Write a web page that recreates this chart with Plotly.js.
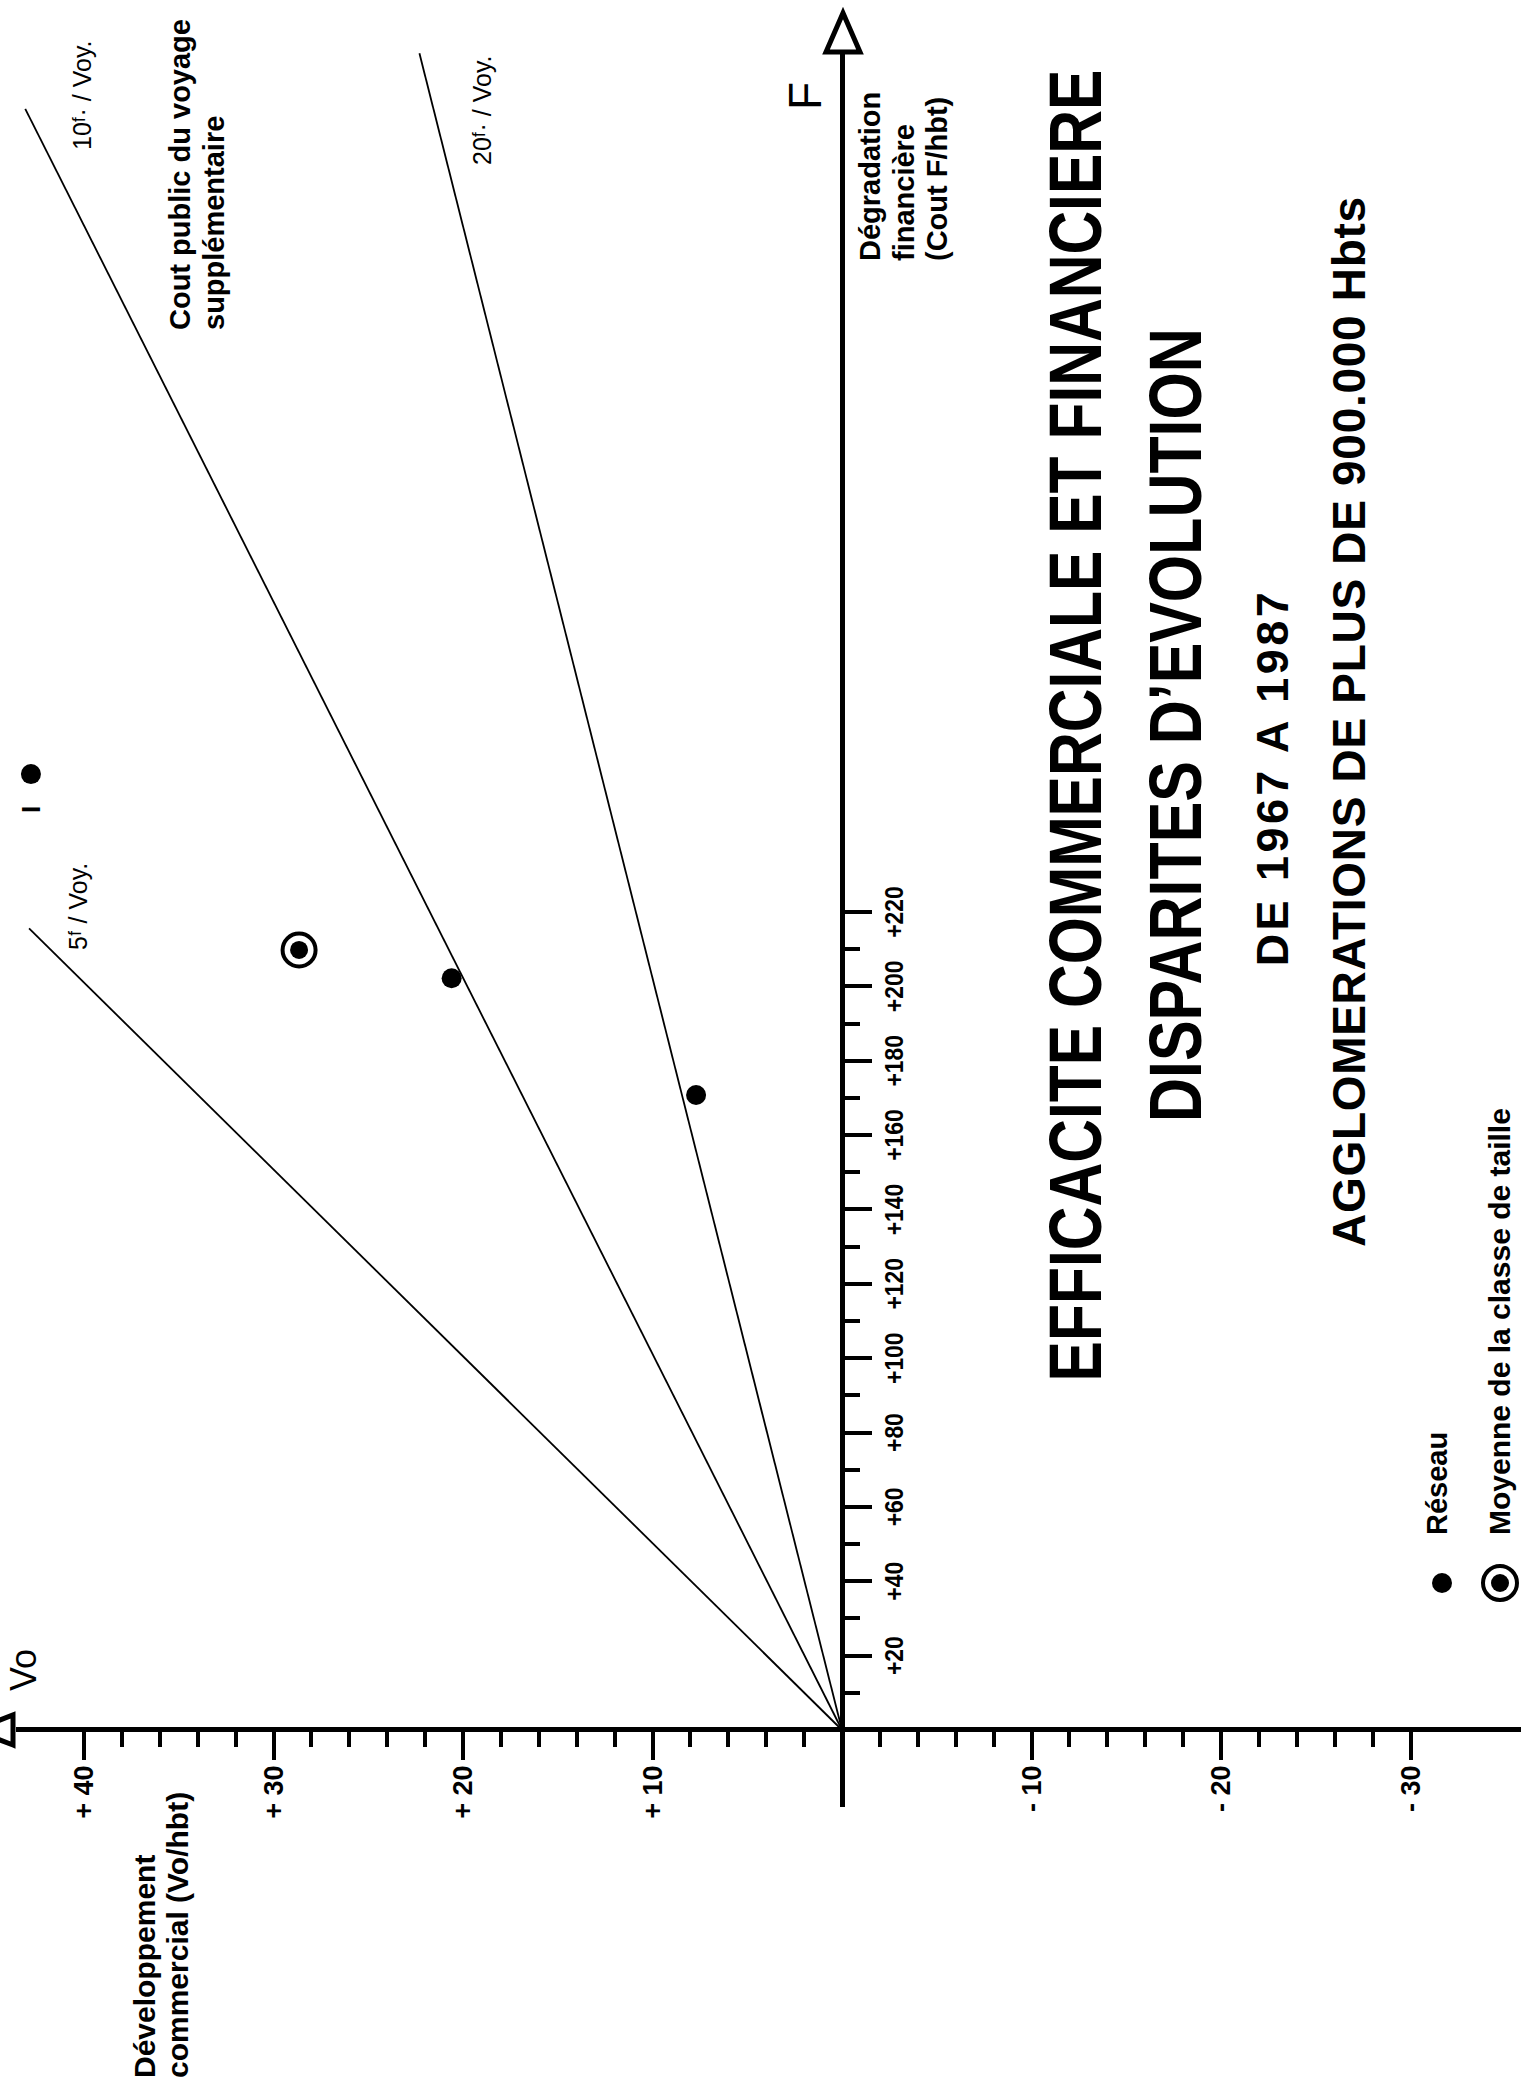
<!DOCTYPE html>
<html>
<head>
<meta charset="utf-8">
<script src="https://cdn.plot.ly/plotly-3.0.1.min.js"></script>
<style>
html,body{margin:0;padding:0;background:#fff;overflow:hidden;width:1521px;height:2084px;}
#wrap{position:absolute;left:0;top:0;width:2084px;height:1521px;transform-origin:0 0;}
</style>
</head>
<body>
<div id="wrap"></div>
<script>
// ---------- data ----------
// F axis : Dégradation financière (Cout F/hbt) ; Vo axis : Développement commercial (Vo/hbt)
const fTickVals   = [20, 40, 60, 80, 100, 120, 140, 160, 180, 200, 220];
const fTickText   = ['+20', '+40', '+60', '+80', '+100', '+120', '+140', '+160', '+180', '+200', '+220'];
const fMinorVals  = [10, 30, 50, 70, 90, 110, 130, 150, 170, 190, 210];
const voTickVals  = [40, 30, 20, 10, -10, -20, -30];
const voTickText  = ['+ 40', '+ 30', '+ 20', '+ 10', '- 10', '- 20', '- 30'];
const voMinorVals = [38, 36, 34, 32, 28, 26, 24, 22, 18, 16, 14, 12, 8, 6, 4, 2,
                     -2, -4, -6, -8, -12, -14, -16, -18, -22, -24, -26, -28];

// iso-cost lines "Cout public du voyage supplémentaire" (F per additional trip)
const isoLabels = ['5', '10', '20'];
const isoEndF   = [215.6, 436.0, 451.0];
const isoEndVo  = [42.9, 43.1, 22.3];

// networks (Réseau)
const reseauF  = [257.1, 202.2, 170.8];
const reseauVo = [42.8, 20.6, 7.7];
const reseauTag = ['I', '', ''];
// size-class average (Moyenne de la classe de taille)
const moyenneF  = [209.8];
const moyenneVo = [28.65];

// ---------- page geometry (unrotated canvas, then turned 90° counter-clockwise) ----------
const W = 2084, H = 1521;
const U0 = 354, V0 = 842;          // origin in pixels
const PXF = 3.718, PXV = 18.95;     // pixels per unit
const pu = u => u / W;
const pv = v => 1 - v / H;

const SANS = 'Liberation Sans, Arial, Helvetica, sans-serif';
const HAND = 'Liberation Sans, DejaVu Sans, sans-serif';

const traces = [];
isoLabels.forEach((lab, i) => {
  traces.push({
    type: 'scatter', mode: 'lines', name: lab + ' F/Voy',
    x: [0, isoEndF[i]], y: [0, isoEndVo[i]],
    line: {color: '#000', width: 1.8}, hoverinfo: 'skip', showlegend: false
  });
});
traces.push({
  type: 'scatter', mode: 'markers', name: 'Réseau',
  x: reseauF, y: reseauVo, cliponaxis: false,
  marker: {color: '#000', size: 20}, showlegend: false
});
traces.push({
  type: 'scatter', mode: 'markers', name: 'Moyenne (anneau)',
  x: moyenneF, y: moyenneVo, cliponaxis: false,
  marker: {symbol: 'circle-open', size: 33, color: '#000', line: {color: '#000', width: 4}}, showlegend: false
});
traces.push({
  type: 'scatter', mode: 'markers', name: 'Moyenne de la classe de taille',
  x: moyenneF, y: moyenneVo, cliponaxis: false,
  marker: {color: '#000', size: 18}, showlegend: false
});

function ann(text, u, v, size, o) {
  o = o || {};
  return Object.assign({
    text: text, xref: 'paper', yref: 'paper', x: pu(u), y: pv(v),
    xanchor: 'center', yanchor: 'middle', showarrow: false,
    font: {family: SANS, size: size, color: '#000', weight: 'bold'}
  }, o);
}
const thin = s => ({font: {family: HAND, size: s, color: '#000', weight: 'normal'}});

// text fitting: [annotation index, target length px, mode]
const fits = [];
const annotations = [];
function addAnn(a, fit) {
  if (fit) fits.push([annotations.length, fit[0], fit[1]]);
  annotations.push(a);
}

addAnn(ann('EFFICACITE COMMERCIALE ET FINANCIERE', 1358, 1075, 75), [1312, 'condense']);
addAnn(ann('DISPARITES D\u2019EVOLUTION', 1359, 1175, 75), [794, 'condense']);
addAnn(ann('DE 1967 A 1987', 1304, 1272, 45), [374, 'spacing']);
addAnn(ann('AGGLOMERATIONS DE PLUS DE 900.000 Hbts', 1362, 1349, 46), [1050, 'spacing']);

addAnn(ann('Dégradation', 1821, 870, 29, {xanchor: 'left'}));
addAnn(ann('financière', 1821, 904, 29, {xanchor: 'left'}));
addAnn(ann('(Cout F/hbt)', 1821, 937, 29, {xanchor: 'left'}));

addAnn(ann('Cout public du voyage', 1752, 180, 29, {xanchor: 'left'}));
addAnn(ann('supplémentaire', 1752, 214, 29, {xanchor: 'left'}));

addAnn(ann('Développement', 4, 145, 30, {xanchor: 'left'}));
addAnn(ann('commercial (Vo/hbt)', 4, 178, 30, {xanchor: 'left'}));

addAnn(ann('Réseau', 547, 1437, 29, {xanchor: 'left'}));
addAnn(ann('Moyenne de la classe de taille', 547, 1499, 30, {xanchor: 'left'}));

addAnn(ann('F', 1988, 805, 46, thin(46)));
addAnn(ann('Vo', 414, 24, 36, thin(36)));

addAnn(ann(isoLabels[0] + '\u1DA0 / Voy.', 1177, 78, 25, thin(25)));
addAnn(ann(isoLabels[1] + '\u1DA0\u00B7 / Voy.', 1989, 82, 25, thin(25)));
addAnn(ann(isoLabels[2] + '\u1DA0\u00B7 / Voy.', 1974, 482, 25, thin(25)));

// roman numeral tag next to the first network
addAnn({text: reseauTag[0], xref: 'x', yref: 'y', x: reseauF[0], y: reseauVo[0],
        xanchor: 'center', yanchor: 'middle', xshift: -35, showarrow: false,
        font: {family: SANS, size: 26, color: '#000', weight: 'bold'}});

const shapes = [
  // arrow head of the F axis (hollow triangle)
  {type: 'path', xref: 'paper', yref: 'paper',
   path: `M ${pu(2032)},${pv(826)} L ${pu(2071)},${pv(843)} L ${pu(2032)},${pv(860)} Z`,
   fillcolor: '#fff', line: {color: '#000', width: 5}},
  // arrow head of the Vo axis (mostly outside the sheet)
  {type: 'path', xref: 'paper', yref: 'paper',
   path: `M ${pu(339)},${pv(13)} L ${pu(354)},${pv(-26)} L ${pu(369)},${pv(13)} Z`,
   fillcolor: '#fff', line: {color: '#000', width: 5}},
  // legend symbols
  {type: 'circle', xref: 'paper', yref: 'paper', xsizemode: 'pixel', ysizemode: 'pixel',
   xanchor: pu(501), yanchor: pv(1442), x0: -10, x1: 10, y0: -10, y1: 10,
   fillcolor: '#000', line: {color: '#000', width: 0}},
  {type: 'circle', xref: 'paper', yref: 'paper', xsizemode: 'pixel', ysizemode: 'pixel',
   xanchor: pu(501), yanchor: pv(1500), x0: -17, x1: 17, y0: -17, y1: 17,
   fillcolor: 'rgba(0,0,0,0)', line: {color: '#000', width: 4}},
  {type: 'circle', xref: 'paper', yref: 'paper', xsizemode: 'pixel', ysizemode: 'pixel',
   xanchor: pu(501), yanchor: pv(1500), x0: -9, x1: 9, y0: -9, y1: 9,
   fillcolor: '#000', line: {color: '#000', width: 0}}
];

const layout = {
  width: W, height: H,
  margin: {l: 0, r: 0, t: 0, b: 0, pad: 0},
  paper_bgcolor: '#fff', plot_bgcolor: 'rgba(0,0,0,0)',
  showlegend: false,
  xaxis: {
    domain: [pu(277), pu(2032)],
    range: [(277 - U0) / PXF, (2032 - U0) / PXF],
    anchor: 'free', position: pv(V0),
    showline: true, linecolor: '#000', linewidth: 5,
    zeroline: false, showgrid: false,
    tickmode: 'array', tickvals: fTickVals, ticktext: fTickText, tickangle: 0,
    ticks: 'outside', ticklen: 27, tickwidth: 4, tickcolor: '#000',
    tickfont: {family: SANS, size: 26, weight: 'bold', color: '#000'},
    minor: {tickmode: 'array', tickvals: fMinorVals, ticks: 'outside', ticklen: 15, tickwidth: 4, tickcolor: '#000', showgrid: false},
    automargin: false, fixedrange: true
  },
  yaxis: {
    domain: [0, pv(16)],
    range: [(V0 - H) / PXV, (V0 - 16) / PXV],
    anchor: 'free', position: pu(U0),
    showline: true, linecolor: '#000', linewidth: 5,
    zeroline: false, showgrid: false,
    tickmode: 'array', tickvals: voTickVals, ticktext: voTickText, tickangle: 0,
    ticks: 'outside', ticklen: 28, tickwidth: 4, tickcolor: '#000',
    tickfont: {family: SANS, size: 27, weight: 'bold', color: '#000'},
    minor: {tickmode: 'array', tickvals: voMinorVals, ticks: 'outside', ticklen: 15, tickwidth: 4, tickcolor: '#000', showgrid: false},
    automargin: false, fixedrange: true
  },
  annotations: annotations,
  shapes: shapes
};

function condense(t, len) {
  const n = t.getComputedTextLength();
  if (!n) return;
  const sx = len / n;
  const bb = t.getBBox();
  const cx = bb.x + bb.width / 2;
  const prev = t.getAttribute('transform') || '';
  t.setAttribute('transform', (prev + ` translate(${cx},0) scale(${sx},1) translate(${-cx},0)`).trim());
}

const gd = document.getElementById('wrap');
Plotly.newPlot(gd, traces, layout, {displayModeBar: false, staticPlot: true, responsive: false}).then(() => {
  // condensed lettering of the headings (as in the printed original)
  fits.forEach(([idx, len, mode]) => {
    const t = gd.querySelector('.annotation[data-index="' + idx + '"] text.annotation-text');
    if (!t) return;
    if (mode === 'condense') condense(t, len);
    else { t.setAttribute('textLength', len); t.setAttribute('lengthAdjust', mode); }
  });
  // narrow figures on the F axis
  gd.querySelectorAll('.xtick text').forEach(t => condense(t, t.getComputedTextLength() * 0.88));
  // drop empty / size-less text nodes (chart and the library's hidden measuring svg)
  document.querySelectorAll('text').forEach(t => {
    let b = null;
    try { b = t.getBBox(); } catch (e) { b = null; }
    if (!t.textContent.trim() || !b || !b.width || !b.height) t.remove();
  });
  const tester = document.getElementById('js-plotly-tester');
  if (tester) tester.remove();
  gd.style.transform = 'translateY(' + W + 'px) rotate(-90deg)';
});
</script>
</body>
</html>
